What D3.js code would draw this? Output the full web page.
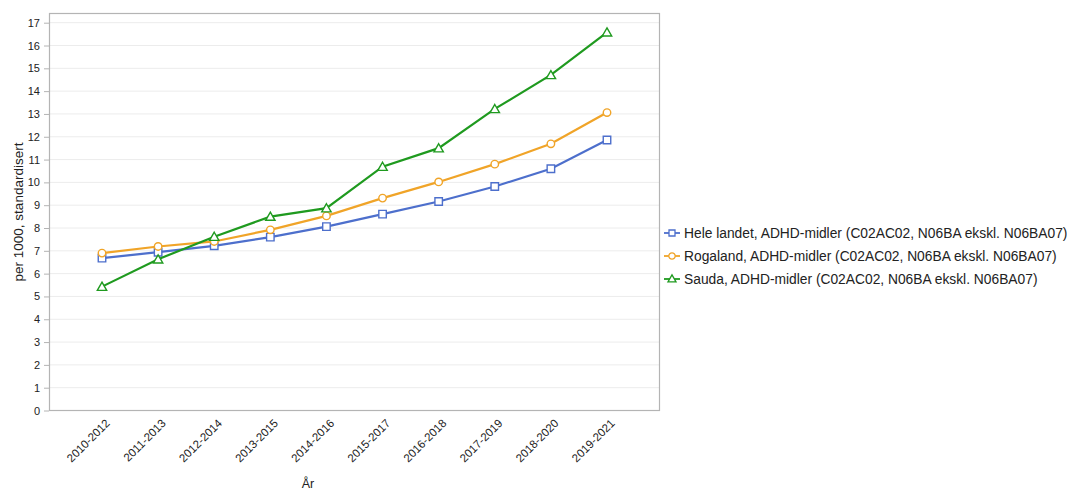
<!DOCTYPE html>
<html>
<head>
<meta charset="utf-8">
<script src="https://cdn.jsdelivr.net/npm/d3@7"></script>
<style>
  html, body { margin: 0; padding: 0; background: #fff; }
  svg { display: block; font-family: "Liberation Sans", Arial, sans-serif; }
</style>
</head>
<body>
<svg id="chart" width="1067" height="493"></svg>
<script>
// Periods (three-year rolling averages)
const periods = ["2010-2012", "2011-2013", "2012-2014", "2013-2015", "2014-2016",
                 "2015-2017", "2016-2018", "2017-2019", "2018-2020", "2019-2021"];

// Users of ADHD medication, per 1000, standardised
const heleLandet = [6.68, 6.94, 7.22, 7.60, 8.06, 8.61, 9.16, 9.82, 10.60, 11.86];
const rogaland   = [6.90, 7.19, 7.41, 7.92, 8.53, 9.31, 10.02, 10.80, 11.69, 13.06];
const sauda      = [5.43, 6.63, 7.62, 8.50, 8.87, 10.69, 11.50, 13.22, 14.71, 16.58];

const seriesNames = [
  "Hele landet, ADHD-midler (C02AC02, N06BA ekskl. N06BA07)",
  "Rogaland, ADHD-midler (C02AC02, N06BA ekskl. N06BA07)",
  "Sauda, ADHD-midler (C02AC02, N06BA ekskl. N06BA07)"
];
const yTicks = d3.range(0, 18);
const yTitle = "per 1000, standardisert";
const xTitle = "År";

const series = [
  { name: seriesNames[0], values: heleLandet, color: "#4d6fcc", symbol: "square" },
  { name: seriesNames[1], values: rogaland,   color: "#f0a428", symbol: "circle" },
  { name: seriesNames[2], values: sauda,      color: "#1f9a1f", symbol: "triangle" }
];

const svg = d3.select("#chart");

// Plot frame
const frame = { left: 49, top: 13, right: 659, bottom: 410 };

const x = d3.scalePoint()
  .domain(periods)
  .range([102, 607]);

const y = d3.scaleLinear()
  .domain([0, 17])
  .range([410.5, 22.7]);

// Horizontal grid
svg.append("g")
  .selectAll("line")
  .data(yTicks.slice(1))
  .join("line")
  .attr("x1", frame.left).attr("x2", frame.right)
  .attr("y1", d => y(d)).attr("y2", d => y(d))
  .attr("stroke", "#ececec")
  .attr("stroke-width", 1);

// Frame border
svg.append("rect")
  .attr("x", frame.left + 0.5).attr("y", frame.top + 0.5)
  .attr("width", frame.right - frame.left).attr("height", frame.bottom - frame.top)
  .attr("fill", "none")
  .attr("stroke", "#b4b4b4")
  .attr("stroke-width", 1.2);

// Y axis
const yAxis = svg.append("g")
  .attr("transform", `translate(${frame.left},0)`)
  .call(d3.axisLeft(y).tickValues(yTicks).tickSize(5).tickPadding(4).tickFormat(d3.format("d")));
yAxis.select(".domain").remove();
yAxis.selectAll(".tick line").attr("stroke", "#b4b4b4");
yAxis.selectAll(".tick text")
  .attr("fill", "#222")
  .style("font-size", "11px");

// X axis labels (rotated)
const xAxis = svg.append("g")
  .attr("transform", `translate(0,${frame.bottom})`)
  .call(d3.axisBottom(x).tickSize(0).tickPadding(0));
xAxis.select(".domain").remove();
xAxis.selectAll(".tick text")
  .attr("fill", "#222")
  .style("font-size", "11.5px")
  .attr("text-anchor", "end")
  .attr("dy", "0")
  .attr("transform", "translate(8,14) rotate(-45)");

// Axis titles
svg.append("text")
  .attr("transform", `translate(23,212) rotate(-90)`)
  .attr("text-anchor", "middle")
  .attr("fill", "#222")
  .style("font-size", "13.5px")
  .text(yTitle);

svg.append("text")
  .attr("x", 308).attr("y", 488)
  .attr("text-anchor", "middle")
  .attr("fill", "#222")
  .style("font-size", "12.5px")
  .text(xTitle);

// Marker shapes
const symbolPath = {
  square: d3.symbol(d3.symbolSquare, 56)(),
  circle: d3.symbol(d3.symbolCircle, 44)(),
  triangle: d3.symbol(d3.symbolTriangle, 38)()
};

const line = d3.line()
  .x((d, i) => x(periods[i]))
  .y(d => y(d));

const gSeries = svg.append("g");
series.forEach(s => {
  const g = gSeries.append("g");
  g.append("path")
    .datum(s.values)
    .attr("d", line)
    .attr("fill", "none")
    .attr("stroke", s.color)
    .attr("stroke-width", 2.2);
  g.selectAll("path.marker")
    .data(s.values)
    .join("path")
    .attr("class", "marker")
    .attr("d", symbolPath[s.symbol])
    .attr("transform", (d, i) => `translate(${x(periods[i])},${y(d) + (s.symbol === "triangle" ? 1 : 0)})`)
    .attr("fill", "#fff")
    .attr("stroke", s.color)
    .attr("stroke-width", 1.4);
});

// Legend
const legend = svg.append("g").attr("transform", "translate(664,233)");
const legendSymbol = {
  square: d3.symbol(d3.symbolSquare, 36)(),
  circle: d3.symbol(d3.symbolCircle, 32)(),
  triangle: d3.symbol(d3.symbolTriangle, 28)()
};
series.forEach((s, i) => {
  const row = legend.append("g").attr("transform", `translate(0,${i * 23})`);
  row.append("line")
    .attr("x1", 0).attr("x2", 16)
    .attr("y1", 0).attr("y2", 0)
    .attr("stroke", s.color)
    .attr("stroke-width", 1.8);
  row.append("path")
    .attr("d", legendSymbol[s.symbol])
    .attr("transform", `translate(8,${s.symbol === "triangle" ? 0.5 : 0})`)
    .attr("fill", "#fff")
    .attr("stroke", s.color)
    .attr("stroke-width", 1.3);
  row.append("text")
    .attr("x", 20).attr("y", 0)
    .attr("dy", "0.35em")
    .attr("fill", "#222")
    .style("font-size", "13.8px")
    .text(s.name);
});
</script>
</body>
</html>
